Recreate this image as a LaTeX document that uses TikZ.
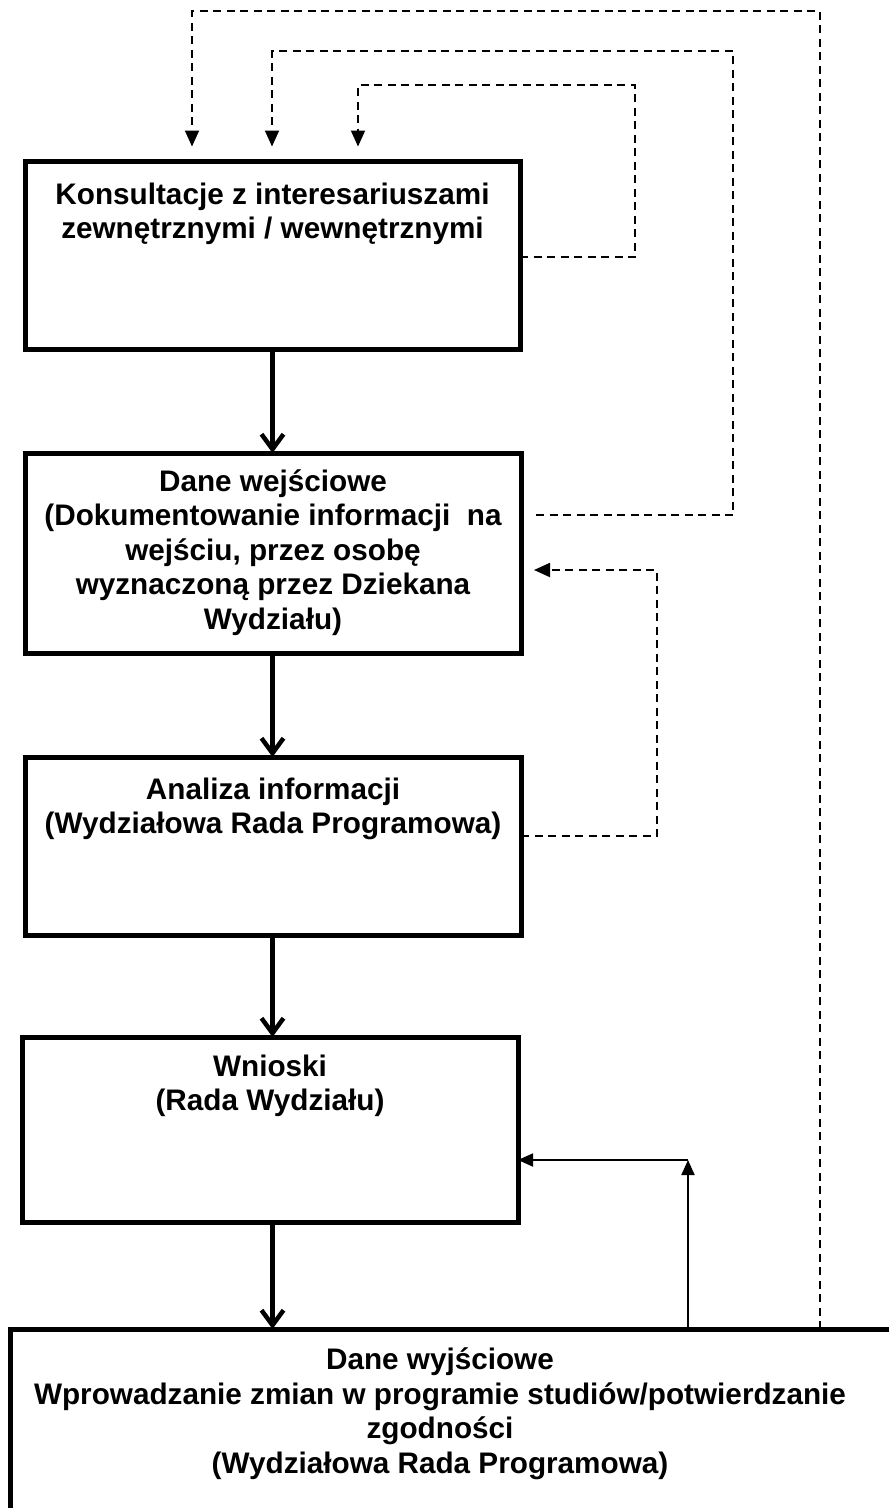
\documentclass[tikz,border=0pt]{standalone}
\usepackage{fontspec}
\setmainfont{Liberation Sans}
\usetikzlibrary{arrows.meta,calc}
\begin{document}
\begin{tikzpicture}[x=1pt,y=-1pt,
  boxnode/.style={draw, line width=5pt, rectangle, inner sep=0pt, outer sep=0pt},
  lbl/.style={font=\bfseries\fontsize{29.7}{34.5}\selectfont, align=center, inner sep=0pt, anchor=north},
  flow/.style={line width=4.5pt, -{Straight Barb[length=15pt,width=22pt]}},
  fb/.style={line width=1.9pt, dash pattern=on 8pt off 5.5pt, line join=miter},
  fbarrow/.style={fb, -{Triangle[length=16pt,width=14pt]}},
  thinarrow/.style={line width=1.9pt, -{Triangle[length=15pt,width=13pt]}}
]
\fill[white] (0,0) rectangle (889,1508);
\useasboundingbox (0,0) rectangle (889,1508);

% boxes
\node[boxnode, minimum width=495pt, minimum height=188pt] (b1) at (272.5,255.5) {};
\node[boxnode, minimum width=496pt, minimum height=200pt] (b2) at (273,553) {};
\node[boxnode, minimum width=496pt, minimum height=178pt] (b3) at (273,846) {};
\node[boxnode, minimum width=496pt, minimum height=185pt] (b4) at (270,1129.5) {};
\begin{scope}
\clip (0,0) rectangle (889,1508);
\node[boxnode, minimum width=890pt, minimum height=300pt] (b5) at (455,1479) {};
\end{scope}

% labels
\node[lbl] (t1) at (272.5,182.5) {Konsultacje z interesariuszami\\zewnętrznymi / wewnętrznymi};
\node[lbl] (t2) at (273,469.5) {Dane wejściowe\\(Dokumentowanie informacji\ \ na\\wejściu, przez osobę\\wyznaczoną przez Dziekana\\Wydziału)};
\node[lbl] (t3) at (273,777.5) {Analiza informacji\\(Wydziałowa Rada Programowa)};
\node[lbl] (t4) at (270,1054.5) {Wnioski\\(Rada Wydziału)};
\node[lbl] (t5) at (440,1347.5) {Dane wyjściowe\\Wprowadzanie zmian w programie studiów/potwierdzanie\\zgodności\\(Wydziałowa Rada Programowa)};

% main flow
\draw[flow] (b1.south) -- (b1.south |- b2.north);
\draw[flow] (b1.south |- b2.south) -- (b1.south |- b3.north);
\draw[flow] (b1.south |- b3.south) -- (b1.south |- b4.north);
\draw[flow] (b1.south |- b4.south) -- (b1.south |- b5.north);

% feedback coordinates
\coordinate (i1) at (635,257);
\coordinate (i2) at (635,85);
\coordinate (i3) at (358,85);
\coordinate (m0) at (536,515);
\coordinate (m1) at (733,515);
\coordinate (m2) at (733,51);
\coordinate (m3) at (272,51);
\coordinate (o1) at (820,11);
\coordinate (o2) at (192,11);
\coordinate (r1) at (657,836);
\coordinate (r2) at (657,570);
\coordinate (k1) at (688,1160);

% dashed feedback loops
\draw[fbarrow, shorten >=15pt] (b1.east |- i1) -- (i1) -- (i2) -- (i3) -- (i3 |- b1.north);
\draw[fbarrow, shorten >=15pt] (m0) -- (m1) -- (m2) -- (m3) -- (m3 |- b1.north);
\draw[fbarrow, shorten >=15pt] (b5.north -| o1) -- (o1) -- (o2) -- (o2 |- b1.north);
\draw[fbarrow, shorten >=13pt] (b3.east |- r1) -- (r1) -- (r2) -- (b2.east |- r2);

% solid feedback
\draw[thinarrow] (b5.north -| k1) -- (k1);
\draw[thinarrow] (k1) -- (b4.east |- k1);
\end{tikzpicture}
\end{document}
